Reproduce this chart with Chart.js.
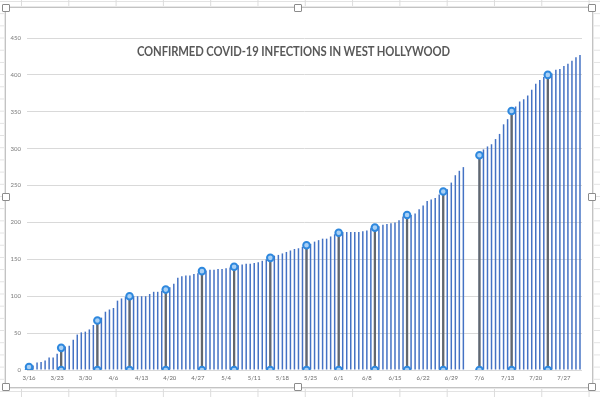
<!DOCTYPE html>
<html>
<head>
<meta charset="utf-8">
<script src="https://cdn.jsdelivr.net/npm/chart.js@4.4.1/dist/chart.umd.min.js"></script>
<style>
  html, body { margin: 0; padding: 0; width: 600px; height: 397px; overflow: hidden; }
  body {
    position: relative;
    background-color: #ffffff;
    background-image:
      linear-gradient(to right, #dcdcdc 1px, transparent 1px),
      linear-gradient(to bottom, #e2e2e2 1px, transparent 1px);
    background-size: 47.3px 100%, 100% 12.2px;
    background-position: 21px 0, 0 1px;
  }
  #frame {
    position: absolute; left: 5px; top: 7px; width: 586px; height: 379px;
    background: #ffffff; border: 1px solid #c3c3c3;
    box-shadow: 0 0 0 1px #e8e8e8;
  }
  canvas { position: absolute; left: 0; top: 0; }
  #title {
    position: absolute; left: 0; top: 44px; width: 587px; text-align: center;
    font-family: Lato, "Open Sans", sans-serif; font-weight: bold; font-size: 12.5px;
    color: #595959; white-space: nowrap; letter-spacing: -0.1px;
    transform: scaleX(0.9); transform-origin: 293px 0;
  }
  .h { position: absolute; width: 6px; height: 6px; background: #fff; border: 1px solid #8c8c8c; border-radius: 1px; }
</style>
</head>
<body>
<div id="frame"></div>
<canvas id="c" width="600" height="397"></canvas>
<div id="title">CONFIRMED COVID-19 INFECTIONS IN WEST HOLLYWOOD</div>
<div class="h" style="left:2px;top:4px"></div>
<div class="h" style="left:294px;top:4px"></div>
<div class="h" style="left:588px;top:4px"></div>
<div class="h" style="left:2px;top:193px"></div>
<div class="h" style="left:588px;top:193px"></div>
<div class="h" style="left:2px;top:383px"></div>
<div class="h" style="left:294px;top:383px"></div>
<div class="h" style="left:588px;top:383px"></div>
<script>
// Daily categories (3/16 – 7/31)
const days = [
  '3/16','3/17','3/18','3/19','3/20','3/21','3/22','3/23','3/24','3/25','3/26','3/27','3/28','3/29','3/30','3/31',
  '4/1','4/2','4/3','4/4','4/5','4/6','4/7','4/8','4/9','4/10','4/11','4/12','4/13','4/14','4/15','4/16','4/17','4/18','4/19','4/20',
  '4/21','4/22','4/23','4/24','4/25','4/26','4/27','4/28','4/29','4/30',
  '5/1','5/2','5/3','5/4','5/5','5/6','5/7','5/8','5/9','5/10','5/11','5/12','5/13','5/14','5/15','5/16','5/17','5/18','5/19','5/20',
  '5/21','5/22','5/23','5/24','5/25','5/26','5/27','5/28','5/29','5/30','5/31',
  '6/1','6/2','6/3','6/4','6/5','6/6','6/7','6/8','6/9','6/10','6/11','6/12','6/13','6/14','6/15','6/16','6/17','6/18','6/19','6/20',
  '6/21','6/22','6/23','6/24','6/25','6/26','6/27','6/28','6/29','6/30',
  '7/1','7/2','7/3','7/4','7/5','7/6','7/7','7/8','7/9','7/10','7/11','7/12','7/13','7/14','7/15','7/16','7/17','7/18','7/19','7/20',
  '7/21','7/22','7/23','7/24','7/25','7/26','7/27','7/28','7/29','7/30','7/31'
];

// Cumulative confirmed infections per day (null = no report)
const confirmed = [
  4, 6, 10, 11, 13, 17, 17, 22, 30, 32,
  33, 41, 48, 51, 52, 55, 61, 67, 71, 79,
  82, 84, 94, 97, 99, 100, 100, 100, 100, 100,
  103, 106, 106, 107, 109, 112, 117, 125, 127, 128,
  128, 130, 131, 134, 135, 136, 136, 137, 137, 138,
  139, 140, 142, 143, 144, 144, 145, 146, 148, 150,
  152, 155, 156, 158, 160, 162, 164, 165, 167, 169,
  171, 174, 176, 178, 178, 181, 184, 186, 187, 187,
  187, 187, 187, 188, 189, 192, 193, 195, 197, 198,
  199, 200, 203, 208, 210, 210, 212, 218, 223, 229,
  231, 233, 238, 242, 245, 254, 264, 270, 275, null,
  null, null, 291, 299, 303, 306, 313, 320, 333, 340,
  351, 357, 364, 367, 372, 380, 388, 393, 397, 400,
  402, 407, 408, 412, 415, 419, 424, 427
];

// Highlighted (selected) report days
const highlightDays = ['3/16','3/24','4/2','4/10','4/19','4/28','5/6','5/15','5/24','6/1','6/10','6/18','6/27','7/6','7/14','7/23'];

// Axis tick labels
const xTickLabels = ['3/16','3/23','3/30','4/6','4/13','4/20','4/27','5/4','5/11','5/18','5/25','6/1','6/8','6/15','6/22','6/29','7/6','7/13','7/20','7/27'];
const yTicks = [0, 50, 100, 150, 200, 250, 300, 350, 400, 450];

const highlightTop = days.map((d, i) => highlightDays.includes(d) ? confirmed[i] : null);
const highlightBottom = days.map(d => highlightDays.includes(d) ? 0 : null);

const ctx = document.getElementById('c').getContext('2d');
new Chart(ctx, {
  type: 'bar',
  data: {
    labels: days,
    datasets: [
      {
        type: 'line', data: highlightTop, showLine: false, order: 0,
        pointStyle: 'circle', pointRadius: 3.3, pointBorderWidth: 2,
        pointBackgroundColor: '#a9d0f5', pointBorderColor: '#2e88de'
      },
      {
        type: 'line', data: highlightBottom, showLine: false, order: 0,
        pointStyle: 'circle', pointRadius: 3.3, pointBorderWidth: 2,
        pointBackgroundColor: '#a9d0f5', pointBorderColor: '#2e88de'
      },
      {
        data: highlightTop, backgroundColor: '#62676e', barThickness: 2.3,
        grouped: false, order: 1, inflateAmount: 0
      },
      {
        data: confirmed, backgroundColor: '#4472c4', barThickness: 1.5,
        grouped: false, order: 2, inflateAmount: 0
      }
    ]
  },
  options: {
    responsive: false,
    animation: false,
    events: [],
    layout: { padding: { left: 7, right: 18, top: 38, bottom: 13 } },
    plugins: { legend: { display: false }, tooltip: { enabled: false }, title: { display: false } },
    scales: {
      x: {
        offset: true,
        afterFit: s => { s.height = 14; },
        grid: { display: false, drawTicks: false },
        border: { display: false },
        ticks: {
          autoSkip: false, maxRotation: 0, minRotation: 0, padding: 4,
          color: '#6b6b6b', font: { family: 'Lato, "Open Sans", sans-serif', size: 6 },
          callback: function(v) { const l = this.getLabelForValue(v); return xTickLabels.includes(l) ? l : ''; }
        }
      },
      y: {
        min: yTicks[0], max: yTicks[yTicks.length - 1],
        afterFit: s => { s.width = 20; },
        afterBuildTicks: s => { s.ticks = yTicks.map(v => ({ value: v })); },
        grid: { color: '#d9d9d9', lineWidth: 1, drawTicks: false },
        border: { display: false },
        ticks: {
          padding: 6, color: '#7a7a7a',
          font: { family: 'Lato, "Open Sans", sans-serif', size: 6 }
        }
      }
    }
  }
});
</script>
</body>
</html>
